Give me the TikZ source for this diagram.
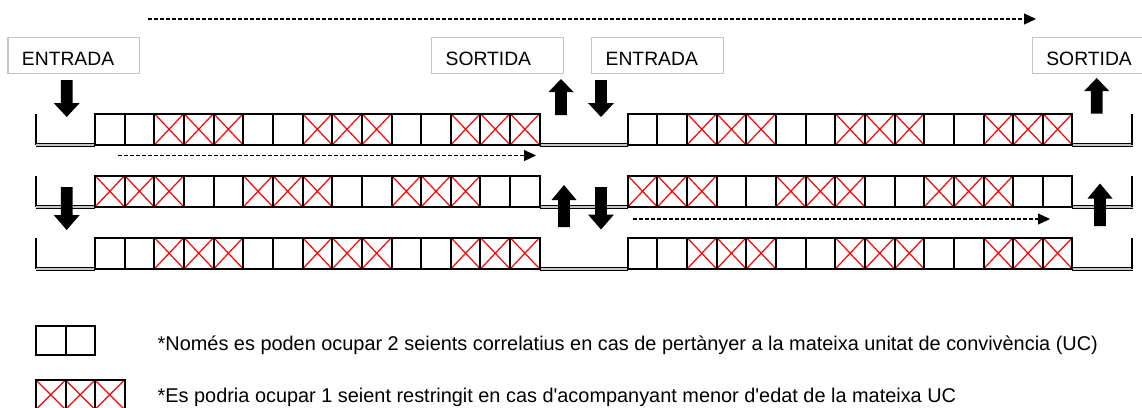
\documentclass[tikz,border=0pt]{standalone}
\usepackage{fontspec}
\setmainfont{Liberation Sans}
\usetikzlibrary{arrows.meta}
\newcommand\cw{29.65}
\newcommand\seatsection[3]{%
  \foreach \i in {#3} {\draw[cross] ({#1+\i*\cw},#2) -- ++(\cw,31.5) ({#1+(\i+1)*\cw},#2) -- ++(-\cw,31.5);}
  \foreach \i in {0,...,14} {\draw[seat] ({#1+\i*\cw},#2) rectangle ++(\cw,31.5);}
}
\newcommand\rowframe[1]{%
  \draw[wall] (36,#1) -- (36,{#1+31.5});
  \draw[floor] (35.5,{#1+31.5}) -- (95,{#1+31.5});
  \draw[floor] (539.75,{#1+31.5}) -- (627.7,{#1+31.5});
  \draw[floor] (1072.45,{#1+31.5}) -- (1133,{#1+31.5});
  \draw[wall] (1132,#1) -- (1132,{#1+31.5});
}
\newcommand\blkdown[4]{% x, top, tip, head length
  \fill[black] ({#1-5.8},#2) -- ({#1+5.8},#2) -- ({#1+5.8},{#3-#4}) -- ({#1+13},{#3-#4}) -- (#1,#3) -- ({#1-13},{#3-#4}) -- ({#1-5.8},{#3-#4}) -- cycle;
}
\newcommand\blkup[4]{% x, tip, base, head length
  \fill[black] ({#1-5.8},#3) -- ({#1+5.8},#3) -- ({#1+5.8},{#2+#4}) -- ({#1+12.5},{#2+#4}) -- (#1,#2) -- ({#1-12.5},{#2+#4}) -- ({#1-5.8},{#2+#4}) -- cycle;
}
\tikzset{
  seat/.style={draw=black, line width=2pt},
  cross/.style={draw=red, line width=1.2pt},
  wall/.style={draw=black, line width=2pt},
  floor/.style={draw=black, line width=1pt, double=gray!45, double distance=1.6pt},
  labelbox/.style={draw=gray!45, line width=1.3pt, fill=white, anchor=north west,
    minimum height=36pt, text width=103.5pt, inner xsep=14pt, inner ysep=2pt,
    text height=19pt, text depth=0pt, align=left, font=\fontsize{19.3}{22}\selectfont},
  flow/.style={line width=1.1pt, dash pattern=on 4pt off 2pt, -{Triangle[length=12pt,width=11pt]}},
  legendtext/.style={anchor=base west, inner sep=0pt, font=\fontsize{19.9}{23}\selectfont}
}
\begin{document}
\begin{tikzpicture}[x=1pt,y=-1pt]
\useasboundingbox (0,0) rectangle (1142,407);
% label boxes
\node[labelbox] (in1) at (7.3,37) {ENTRADA};
\node[labelbox] (out1) at (431,37) {SORTIDA};
\node[labelbox] (in2) at (591,37) {ENTRADA};
\node[labelbox] (out2) at (1031.7,37) {SORTIDA};
% top flow arrow
\coordinate (ta) at (148,19);
\coordinate (tb) at (1036,19);
\draw[flow] (ta) -- (tb);
% rows
\rowframe{113.5}
\seatsection{95}{113.5}{2,3,4,7,8,9,12,13,14}
\seatsection{627.7}{113.5}{2,3,4,7,8,9,12,13,14}
\rowframe{175.5}
\seatsection{95}{175.5}{0,1,2,5,6,7,10,11,12}
\seatsection{627.7}{175.5}{0,1,2,5,6,7,10,11,12}
\rowframe{237.5}
\seatsection{95}{237.5}{2,3,4,7,8,9,12,13,14}
\seatsection{627.7}{237.5}{2,3,4,7,8,9,12,13,14}
% row flow arrows
\coordinate (r1a) at (118,155.5);
\coordinate (r1b) at (536,155.5);
\draw[flow] (r1a) -- (r1b);
\coordinate (r2a) at (633,219);
\coordinate (r2b) at (1050,219);
\draw[flow] (r2a) -- (r2b);
% block arrows
\blkdown{66.7}{80}{117}{14}
\blkdown{66.7}{187}{230}{15}
\blkup{561}{79}{115}{13}
\blkdown{601}{80}{117}{14}
\blkup{564}{185}{227}{15}
\blkdown{601}{187}{229.5}{15}
\blkup{1096.7}{78}{113.5}{13}
\blkup{1100}{183.5}{226}{15}
% legend
\foreach \i in {0,1} {\draw[seat] ({36+\i*29.5},325.7) rectangle ++(29.5,29.3);}
\foreach \i in {0,1,2} {\draw[cross] ({36+\i*29.5},380) -- ++(29.5,29.5) ({36+(\i+1)*29.5},380) -- ++(-29.5,29.5);}
\foreach \i in {0,1,2} {\draw[seat] ({36+\i*29.5},380) rectangle ++(29.5,29.5);}
\node[legendtext] (note1) at (157.5,350) {*Només es poden ocupar 2 seients correlatius en cas de pertànyer a la mateixa unitat de convivència (UC)};
\node[legendtext] (note2) at (157.5,402) {*Es podria ocupar 1 seient restringit en cas d\textquotesingle acompanyant menor d\textquotesingle edat de la mateixa UC};
\end{tikzpicture}
\end{document}
